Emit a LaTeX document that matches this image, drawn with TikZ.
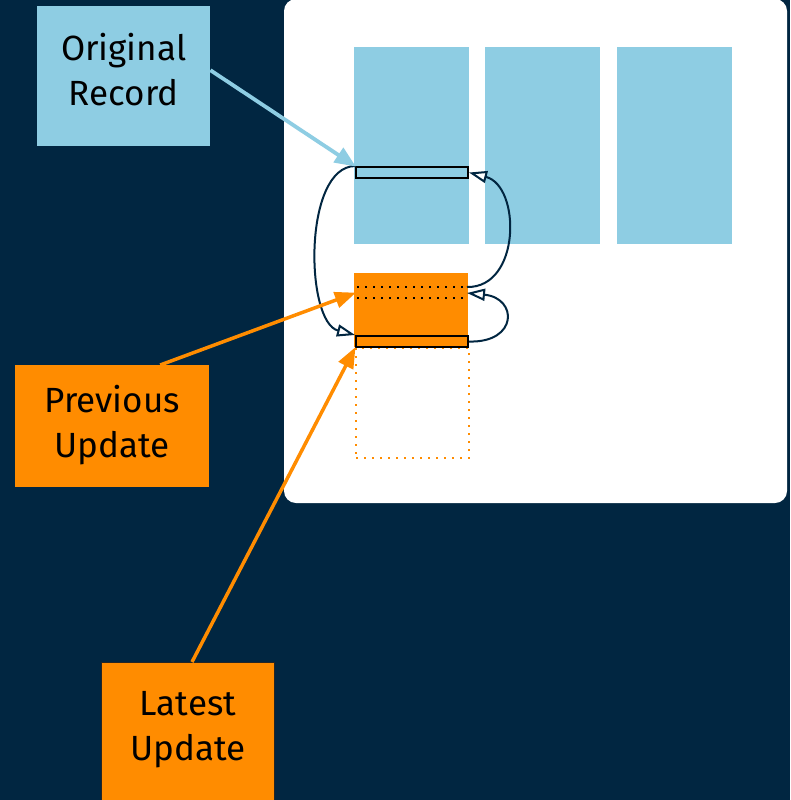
\documentclass[tikz,border=0pt]{standalone}
\usepackage{fontspec}
\setmainfont{Fira Sans}
\usetikzlibrary{arrows.meta}
\definecolor{navy}{HTML}{012641}
\definecolor{lblue}{HTML}{8ECDE3}
\definecolor{orng}{HTML}{FF8C00}
\newcommand\liftedtext[2]{\raisebox{#1}[\height][\depth]{\begin{tabular}{@{}c@{}}#2\end{tabular}}}
\tikzset{
  label box/.style={rectangle, inner sep=0pt, font=\fontsize{35}{45}\selectfont, text=black},
  column/.style={rectangle, fill=lblue, inner sep=0pt, anchor=north west, minimum width=115pt, minimum height=197pt},
  bar/.style={rectangle, draw=black, line width=2pt, inner sep=0pt, anchor=north west, minimum width=112pt, minimum height=11pt},
  link/.style={navy, line width=2pt, -{Triangle[open, length=18pt, width=12pt, fill=white]}},
  blue arrow/.style={lblue, line width=3.8pt, -{Triangle[length=21pt, width=17pt]}, shorten >=-1pt},
  orange arrow/.style={orng, line width=3.5pt, -{Triangle[length=21pt, width=16pt]}, shorten >=-1pt},
  dotline/.style={black, line width=2pt, dash pattern=on 2pt off 6pt},
}
\begin{document}
\begin{tikzpicture}[x=1pt, y=-1pt]
\useasboundingbox (0,0) rectangle (790,800);
\fill[navy] (0,0) rectangle (790,800);
% white panel
\fill[white, rounded corners=12pt] (284,-1) rectangle (787,503);
% columns
\node[column] (col1) at (354,47) {};
\node[column] (col2) at (485,47) {};
\node[column] (col3) at (617,47) {};
% update block
\node[rectangle, fill=orng, inner sep=0pt, anchor=north west, minimum width=114pt, minimum height=74pt] (upd) at (354,273) {};
\node[rectangle, draw=orng, line width=2pt, dash pattern=on 2pt off 6pt, inner sep=0pt, anchor=north west, minimum width=113pt, minimum height=110pt] (free) at (355,347) {};
% dotted lines in update block
\coordinate (d1w) at (357,287);
\coordinate (d1e) at (467,287);
\coordinate (d2w) at (357,298);
\coordinate (d2e) at (467,298);
\coordinate (dmw) at (355,293);
\coordinate (dme) at (467,293);
\draw[dotline] (d1w) -- (d1e);
\draw[dotline] (d2w) -- (d2e);
% record bars
\node[bar, fill=lblue] (bar1) at (355,166) {};
\node[bar, fill=orng] (bar2) at (355,335) {};
% links
\draw[link] (bar1.north west) .. controls (303,167) and (305,322) .. (bar2.north west);
\draw[link] (d1e) .. controls (521,288) and (521,186) .. (bar1.east);
\draw[link] (bar2.east) .. controls (518,343) and (518,298) .. (dme);
% label boxes
\node[label box, fill=lblue, minimum width=173pt, minimum height=140pt, anchor=north west] (orig) at (37,6) {\liftedtext{2pt}{Original\\Record}};
\node[label box, fill=orng, minimum width=194pt, minimum height=122pt, anchor=north west] (prev) at (15,365) {\liftedtext{0pt}{Previous\\Update}};
\node[label box, fill=orng, draw=black!85, line width=1pt, minimum width=173pt, minimum height=150pt, anchor=north west] (latest) at (101,662) {\liftedtext{9pt}{Latest\\Update}};
% pointer arrows
\draw[blue arrow] ([yshift=6pt]orig.east) -- (bar1.north west);
\draw[orange arrow] ([xshift=48pt]prev.north) -- (dmw);
\draw[orange arrow] ([xshift=4pt]latest.north) -- (bar2.south west);
\end{tikzpicture}
\end{document}
